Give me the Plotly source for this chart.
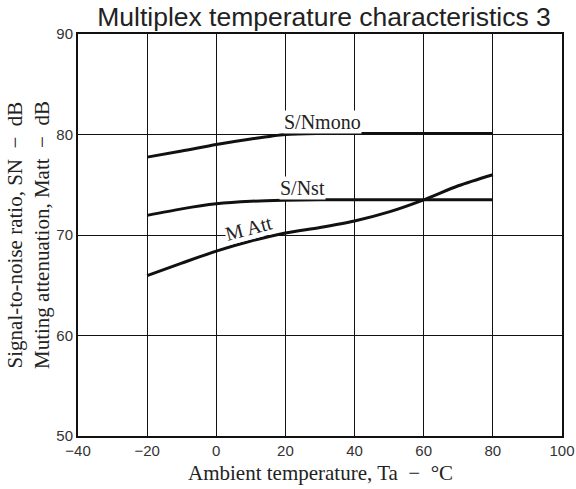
import plotly.graph_objects as go

temps = [-20, -10, 0, 10, 20, 30, 40, 50, 60, 70, 80]
sn_mono = [77.75, 78.35, 79.0, 79.55, 80.0, 80.1, 80.1, 80.1, 80.1, 80.1, 80.1]
sn_st = [71.95, 72.6, 73.1, 73.35, 73.45, 73.5, 73.5, 73.5, 73.5, 73.5, 73.5]
m_att = [65.95, 67.2, 68.4, 69.4, 70.2, 70.75, 71.4, 72.3, 73.5, 74.9, 76.0]

x_ticks = [-40, -20, 0, 20, 40, 60, 80, 100]
x_labels = ["\u221240", "\u221220", "0", "20", "40", "60", "80", "100"]
y_ticks = [50, 60, 70, 80, 90]
y_labels = ["50", "60", "70", "80", "90"]

series = [("S/Nmono", sn_mono), ("S/Nst", sn_st), ("M Att", m_att)]

fig = go.Figure()
for name, vals in series:
    fig.add_trace(go.Scatter(x=temps, y=vals, mode="lines", name=name,
                             line=dict(color="#111111", width=3, shape="spline", smoothing=0.8),
                             showlegend=False))

serif = "Liberation Serif, Times New Roman, serif"
sans = "Liberation Sans, Arial, sans-serif"

anns = [
    dict(x=30.6, y=81.2, text="S/Nmono", angle=0),
    dict(x=24.8, y=74.65, text="S/Nst", angle=0),
    dict(x=9.6, y=70.65, text="M Att", angle=-15),
]
for a in anns:
    fig.add_annotation(x=a["x"], y=a["y"], xref="x", yref="y", text=a["text"],
                       showarrow=False, textangle=a["angle"], bgcolor="white",
                       borderpad=0, font=dict(family=serif, size=20, color="#222222"))

fig.add_annotation(x=-50/484, y=0.5, xref="paper", yref="paper", xanchor="center", yanchor="middle",
                   text="Signal-to-noise ratio, SN  \u2212  dB<br>Muting attenuation, Matt  \u2212  dB",
                   textangle=-90, showarrow=False, align="center",
                   font=dict(family=serif, size=21, color="#222222"))
fig.add_annotation(x=0.5, y=-37/402, xref="paper", yref="paper", xanchor="center", yanchor="middle",
                   text="Ambient temperature, Ta  \u2212  \u00b0C", showarrow=False,
                   font=dict(family=serif, size=21, color="#222222"))

fig.update_layout(
    width=576, height=489,
    margin=dict(l=78, r=14, t=34, b=53, autoexpand=False),
    paper_bgcolor="white", plot_bgcolor="white",
    title=dict(text="Multiplex temperature characteristics 3", x=0.5625, xanchor="center",
               y=1 - 17 / 489, yanchor="middle",
               font=dict(family=sans, size=26.5, color="#222222")),
    xaxis=dict(range=[-40, 100], tickvals=x_ticks, ticktext=x_labels, automargin=False,
               showgrid=True, gridcolor="#111111", gridwidth=1, zeroline=False,
               showline=True, linecolor="#111111", linewidth=2, mirror=True,
               ticks="", tickfont=dict(family=sans, size=15, color="#333333")),
    yaxis=dict(range=[50, 90], tickvals=y_ticks, ticktext=y_labels, automargin=False,
               showgrid=True, gridcolor="#111111", gridwidth=1, zeroline=False,
               showline=True, linecolor="#111111", linewidth=2, mirror=True,
               ticks="", tickfont=dict(family=sans, size=15, color="#333333")),
)

fig.write_html(
    "out.html",
    config={"displayModeBar": False, "responsive": False},
    post_script="document.documentElement.style.overflow='hidden';"
                "document.body.style.overflow='hidden';document.body.style.margin='0';",
)
